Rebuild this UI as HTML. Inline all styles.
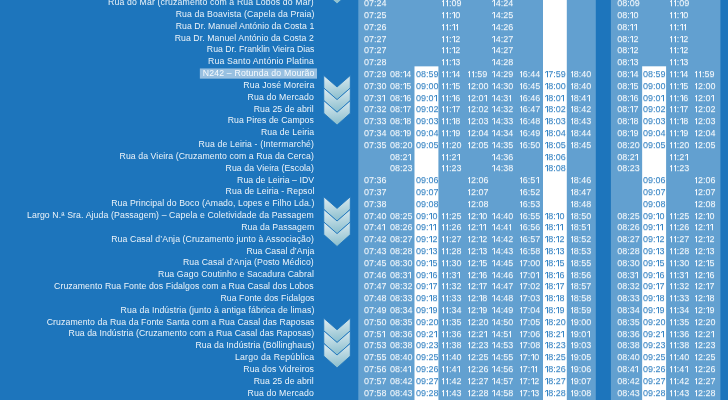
<!DOCTYPE html>
<html><head><meta charset="utf-8"><title>Horário</title>
<style>
html,body{margin:0;padding:0}
body{width:728px;height:400px;overflow:hidden;background:#1d75bc;position:relative;font-family:"Liberation Sans",sans-serif;}
#tx{position:absolute;left:0;top:0;width:728px;height:400px;filter:blur(.45px)}
.l{position:absolute;right:414px;white-space:nowrap;color:#fff;font-size:8.4px;line-height:10px;height:10px;opacity:.92;transform:scaleX(1.04);transform-origin:100% 50%}
.c{position:absolute;white-space:nowrap;color:#fff;font-size:9px;line-height:10px;height:10px;opacity:.93;text-shadow:0 1px 0 rgba(255,255,255,.25)}
.b{color:#2278be;opacity:.9;text-shadow:0 1px 0 rgba(29,117,188,.25)}
.b i:before{box-shadow:0 1px 0 rgba(29,117,188,.25)!important}
.c i{display:inline-block;width:3.85px;height:7px;margin-bottom:-1px;position:relative;font-size:0;line-height:0;overflow:hidden;font-style:normal}
.c i:before{content:"";position:absolute;right:.75px;top:0;width:.85px;height:6px;box-shadow:0 1px 0 rgba(255,255,255,.28);background:currentColor}
.c i:after{content:"";position:absolute;right:1.6px;top:.1px;width:1.6px;height:.85px;background:currentColor;transform:skewY(-40deg);transform-origin:right top}
svg{position:absolute;left:0;top:0}
</style></head><body>
<svg width="728" height="400" viewBox="0 0 728 400"><defs><linearGradient id="g" x1="0" y1="0" x2="0.12" y2="1"><stop offset="0" stop-color="#e2eef3"/><stop offset="1" stop-color="#8cbfce"/></linearGradient></defs><rect x="358.3" y="-5" width="237.5" height="410" fill="#62a0d0"/><rect x="610.9" y="-5" width="109.5" height="410" fill="#62a0d0"/><rect x="414.5" y="66.35" width="23.9" height="338.65" fill="#fff"/><rect x="543.0" y="-5" width="23.8" height="410" fill="#fff"/><rect x="642.15" y="66.3" width="23.95" height="338.7" fill="#fff"/><rect x="199.85" y="68.45" width="117.15" height="10.2" fill="#98c0e1"/><polygon points="323.75,-45.8 337.05,-34.2 350.3,-45.8 350.3,-33.2 337.05,-21.3 323.75,-33.2" fill="url(#g)" stroke="#1d75bc" stroke-width="0.9"/><polygon points="323.75,-33.2 337.05,-21.6 350.3,-33.2 350.3,-20.6 337.05,-8.7 323.75,-20.6" fill="url(#g)" stroke="#1d75bc" stroke-width="0.9"/><polygon points="323.75,-20.6 337.05,-9.0 350.3,-20.6 350.3,-8.0 337.05,3.9 323.75,-8.0" fill="url(#g)" stroke="#1d75bc" stroke-width="0.9"/><polygon points="323.75,75.4 337.05,87.0 350.3,75.4 350.3,88.0 337.05,99.9 323.75,88.0" fill="url(#g)" stroke="#1d75bc" stroke-width="0.9"/><polygon points="323.75,88.0 337.05,99.6 350.3,88.0 350.3,100.6 337.05,112.5 323.75,100.6" fill="url(#g)" stroke="#1d75bc" stroke-width="0.9"/><polygon points="323.75,100.6 337.05,112.2 350.3,100.6 350.3,113.2 337.05,125.1 323.75,113.2" fill="url(#g)" stroke="#1d75bc" stroke-width="0.9"/><polygon points="323.75,196.8 337.05,208.4 350.3,196.8 350.3,209.4 337.05,221.3 323.75,209.4" fill="url(#g)" stroke="#1d75bc" stroke-width="0.9"/><polygon points="323.75,209.4 337.05,221.0 350.3,209.4 350.3,222.0 337.05,233.9 323.75,222.0" fill="url(#g)" stroke="#1d75bc" stroke-width="0.9"/><polygon points="323.75,222.0 337.05,233.6 350.3,222.0 350.3,234.6 337.05,246.5 323.75,234.6" fill="url(#g)" stroke="#1d75bc" stroke-width="0.9"/><polygon points="323.75,318.2 337.05,329.8 350.3,318.2 350.3,330.8 337.05,342.7 323.75,330.8" fill="url(#g)" stroke="#1d75bc" stroke-width="0.9"/><polygon points="323.75,330.8 337.05,342.4 350.3,330.8 350.3,343.4 337.05,355.3 323.75,343.4" fill="url(#g)" stroke="#1d75bc" stroke-width="0.9"/><polygon points="323.75,343.4 337.05,355.0 350.3,343.4 350.3,356.0 337.05,367.9 323.75,356.0" fill="url(#g)" stroke="#1d75bc" stroke-width="0.9"/></svg>
<div id="tx">
<div class="l" style="top:-2.85px;letter-spacing:0.130px;margin-right:-0.135px">Rua do Mar (cruzamento com a Rua Lobos do Mar)</div>
<div class="l" style="top:8.98px;letter-spacing:0.125px;margin-right:-0.130px">Rua da Boavista (Capela da Praia)</div>
<div class="l" style="top:20.81px;letter-spacing:0.061px;margin-right:-0.064px">Rua Dr. Manuel António da Costa 1</div>
<div class="l" style="top:32.64px;letter-spacing:0.079px;margin-right:-0.082px">Rua Dr. Manuel António da Costa 2</div>
<div class="l" style="top:44.47px;letter-spacing:0.011px;margin-right:-0.012px">Rua Dr. Franklin Vieira Dias</div>
<div class="l" style="top:56.30px;letter-spacing:0.170px;margin-right:-0.177px">Rua Santo António Platina</div>
<div class="l" style="top:68.13px;letter-spacing:0.177px;margin-right:-0.184px">N242 – Rotunda do Mourão</div>
<div class="l" style="top:79.96px;letter-spacing:0.143px;margin-right:-0.148px">Rua José Moreira</div>
<div class="l" style="top:91.79px;letter-spacing:0.155px;margin-right:-0.162px">Rua do Mercado</div>
<div class="l" style="top:103.62px;letter-spacing:0.071px;margin-right:-0.074px">Rua 25 de abril</div>
<div class="l" style="top:115.45px;letter-spacing:0.052px;margin-right:-0.054px">Rua Pires de Campos</div>
<div class="l" style="top:127.28px;letter-spacing:0.109px;margin-right:-0.114px">Rua de Leiria</div>
<div class="l" style="top:139.11px;letter-spacing:0.124px;margin-right:-0.129px">Rua de Leiria - (Intermarché)</div>
<div class="l" style="top:150.94px;letter-spacing:0.081px;margin-right:-0.084px">Rua da Vieira (Cruzamento com a Rua da Cerca)</div>
<div class="l" style="top:162.77px;letter-spacing:0.059px;margin-right:-0.061px">Rua da Vieira (Escola)</div>
<div class="l" style="top:174.60px;letter-spacing:0.054px;margin-right:-0.056px">Rua de Leiria – IDV</div>
<div class="l" style="top:186.43px;letter-spacing:0.100px;margin-right:-0.104px">Rua de Leiria - Repsol</div>
<div class="l" style="top:198.26px;letter-spacing:0.092px;margin-right:-0.096px">Rua Principal do Boco (Amado, Lopes e Filho Lda.)</div>
<div class="l" style="top:210.09px;letter-spacing:0.109px;margin-right:-0.113px">Largo N.ª Sra. Ajuda (Passagem) – Capela e Coletividade da Passagem</div>
<div class="l" style="top:221.92px;letter-spacing:0.091px;margin-right:-0.094px">Rua da Passagem</div>
<div class="l" style="top:233.75px;letter-spacing:0.096px;margin-right:-0.100px">Rua Casal d’Anja (Cruzamento junto à Associação)</div>
<div class="l" style="top:245.58px;letter-spacing:0.046px;margin-right:-0.048px">Rua Casal d’Anja</div>
<div class="l" style="top:257.41px;letter-spacing:0.079px;margin-right:-0.083px">Rua Casal d’Anja (Posto Médico)</div>
<div class="l" style="top:269.24px;letter-spacing:0.108px;margin-right:-0.112px">Rua Gago Coutinho e Sacadura Cabral</div>
<div class="l" style="top:281.07px;letter-spacing:0.089px;margin-right:-0.092px">Cruzamento Rua Fonte dos Fidalgos com a Rua Casal dos Lobos</div>
<div class="l" style="top:292.90px;letter-spacing:0.072px;margin-right:-0.075px">Rua Fonte dos Fidalgos</div>
<div class="l" style="top:304.73px;letter-spacing:0.116px;margin-right:-0.121px">Rua da Indústria (junto à antiga fábrica de limas)</div>
<div class="l" style="top:316.56px;letter-spacing:0.087px;margin-right:-0.090px">Cruzamento da Rua da Fonte Santa com a Rua Casal das Raposas</div>
<div class="l" style="top:328.39px;letter-spacing:0.061px;margin-right:-0.064px">Rua da Indústria (Cruzamento com a Rua Casal das Raposas)</div>
<div class="l" style="top:340.22px;letter-spacing:0.060px;margin-right:-0.062px">Rua da Indústria (Böllinghaus)</div>
<div class="l" style="top:352.05px;letter-spacing:0.210px;margin-right:-0.218px">Largo da República</div>
<div class="l" style="top:363.88px;letter-spacing:0.098px;margin-right:-0.102px">Rua dos Vidreiros</div>
<div class="l" style="top:375.71px;letter-spacing:0.071px;margin-right:-0.074px">Rua 25 de abril</div>
<div class="l" style="top:387.54px;letter-spacing:0.155px;margin-right:-0.162px">Rua do Mercado</div>
<div class="c" style="left:364.0px;top:-2px">07:24</div>
<div class="c" style="left:364.0px;top:10px">07:25</div>
<div class="c" style="left:364.0px;top:22px">07:26</div>
<div class="c" style="left:364.0px;top:34px">07:27</div>
<div class="c" style="left:364.0px;top:45px">07:27</div>
<div class="c" style="left:364.0px;top:57px">07:28</div>
<div class="c" style="left:364.0px;top:69px">07:29</div>
<div class="c" style="left:364.0px;top:81px">07:30</div>
<div class="c" style="left:364.0px;top:93px">07:3<i>1</i></div>
<div class="c" style="left:364.0px;top:104px">07:32</div>
<div class="c" style="left:364.0px;top:116px">07:33</div>
<div class="c" style="left:364.0px;top:128px">07:34</div>
<div class="c" style="left:364.0px;top:140px">07:35</div>
<div class="c" style="left:364.0px;top:175px">07:36</div>
<div class="c" style="left:364.0px;top:187px">07:37</div>
<div class="c" style="left:364.0px;top:199px">07:38</div>
<div class="c" style="left:364.0px;top:211px">07:40</div>
<div class="c" style="left:364.0px;top:222px">07:4<i>1</i></div>
<div class="c" style="left:364.0px;top:234px">07:42</div>
<div class="c" style="left:364.0px;top:246px">07:43</div>
<div class="c" style="left:364.0px;top:258px">07:45</div>
<div class="c" style="left:364.0px;top:270px">07:46</div>
<div class="c" style="left:364.0px;top:281px">07:47</div>
<div class="c" style="left:364.0px;top:293px">07:48</div>
<div class="c" style="left:364.0px;top:305px">07:49</div>
<div class="c" style="left:364.0px;top:317px">07:50</div>
<div class="c" style="left:364.0px;top:329px">07:5<i>1</i></div>
<div class="c" style="left:364.0px;top:340px">07:53</div>
<div class="c" style="left:364.0px;top:352px">07:55</div>
<div class="c" style="left:364.0px;top:364px">07:56</div>
<div class="c" style="left:364.0px;top:376px">07:57</div>
<div class="c" style="left:364.0px;top:388px">07:58</div>
<div class="c" style="left:390.0px;top:69px">08:<i>1</i>4</div>
<div class="c" style="left:390.0px;top:81px">08:<i>1</i>5</div>
<div class="c" style="left:390.0px;top:93px">08:<i>1</i>6</div>
<div class="c" style="left:390.0px;top:104px">08:<i>1</i>7</div>
<div class="c" style="left:390.0px;top:116px">08:<i>1</i>8</div>
<div class="c" style="left:390.0px;top:128px">08:<i>1</i>9</div>
<div class="c" style="left:390.0px;top:140px">08:20</div>
<div class="c" style="left:390.0px;top:152px">08:2<i>1</i></div>
<div class="c" style="left:390.0px;top:163px">08:23</div>
<div class="c" style="left:390.0px;top:211px">08:25</div>
<div class="c" style="left:390.0px;top:222px">08:26</div>
<div class="c" style="left:390.0px;top:234px">08:27</div>
<div class="c" style="left:390.0px;top:246px">08:28</div>
<div class="c" style="left:390.0px;top:258px">08:30</div>
<div class="c" style="left:390.0px;top:270px">08:3<i>1</i></div>
<div class="c" style="left:390.0px;top:281px">08:32</div>
<div class="c" style="left:390.0px;top:293px">08:33</div>
<div class="c" style="left:390.0px;top:305px">08:34</div>
<div class="c" style="left:390.0px;top:317px">08:35</div>
<div class="c" style="left:390.0px;top:329px">08:36</div>
<div class="c" style="left:390.0px;top:340px">08:38</div>
<div class="c" style="left:390.0px;top:352px">08:40</div>
<div class="c" style="left:390.0px;top:364px">08:4<i>1</i></div>
<div class="c" style="left:390.0px;top:376px">08:42</div>
<div class="c" style="left:390.0px;top:388px">08:43</div>
<div class="c b" style="left:416.1px;top:69px">08:59</div>
<div class="c b" style="left:416.1px;top:81px">09:00</div>
<div class="c b" style="left:416.1px;top:93px">09:0<i>1</i></div>
<div class="c b" style="left:416.1px;top:104px">09:02</div>
<div class="c b" style="left:416.1px;top:116px">09:03</div>
<div class="c b" style="left:416.1px;top:128px">09:04</div>
<div class="c b" style="left:416.1px;top:140px">09:05</div>
<div class="c b" style="left:416.1px;top:175px">09:06</div>
<div class="c b" style="left:416.1px;top:187px">09:07</div>
<div class="c b" style="left:416.1px;top:199px">09:08</div>
<div class="c b" style="left:416.1px;top:211px">09:<i>1</i>0</div>
<div class="c b" style="left:416.1px;top:222px">09:<i>1</i><i>1</i></div>
<div class="c b" style="left:416.1px;top:234px">09:<i>1</i>2</div>
<div class="c b" style="left:416.1px;top:246px">09:<i>1</i>3</div>
<div class="c b" style="left:416.1px;top:258px">09:<i>1</i>5</div>
<div class="c b" style="left:416.1px;top:270px">09:<i>1</i>6</div>
<div class="c b" style="left:416.1px;top:281px">09:<i>1</i>7</div>
<div class="c b" style="left:416.1px;top:293px">09:<i>1</i>8</div>
<div class="c b" style="left:416.1px;top:305px">09:<i>1</i>9</div>
<div class="c b" style="left:416.1px;top:317px">09:20</div>
<div class="c b" style="left:416.1px;top:329px">09:2<i>1</i></div>
<div class="c b" style="left:416.1px;top:340px">09:23</div>
<div class="c b" style="left:416.1px;top:352px">09:25</div>
<div class="c b" style="left:416.1px;top:364px">09:26</div>
<div class="c b" style="left:416.1px;top:376px">09:27</div>
<div class="c b" style="left:416.1px;top:388px">09:28</div>
<div class="c" style="left:441.2px;top:-2px"><i>1</i><i>1</i>:09</div>
<div class="c" style="left:441.2px;top:10px"><i>1</i><i>1</i>:<i>1</i>0</div>
<div class="c" style="left:441.2px;top:22px"><i>1</i><i>1</i>:<i>1</i><i>1</i></div>
<div class="c" style="left:441.2px;top:34px"><i>1</i><i>1</i>:<i>1</i>2</div>
<div class="c" style="left:441.2px;top:45px"><i>1</i><i>1</i>:<i>1</i>2</div>
<div class="c" style="left:441.2px;top:57px"><i>1</i><i>1</i>:<i>1</i>3</div>
<div class="c" style="left:441.2px;top:69px"><i>1</i><i>1</i>:<i>1</i>4</div>
<div class="c" style="left:441.2px;top:81px"><i>1</i><i>1</i>:<i>1</i>5</div>
<div class="c" style="left:441.2px;top:93px"><i>1</i><i>1</i>:<i>1</i>6</div>
<div class="c" style="left:441.2px;top:104px"><i>1</i><i>1</i>:<i>1</i>7</div>
<div class="c" style="left:441.2px;top:116px"><i>1</i><i>1</i>:<i>1</i>8</div>
<div class="c" style="left:441.2px;top:128px"><i>1</i><i>1</i>:<i>1</i>9</div>
<div class="c" style="left:441.2px;top:140px"><i>1</i><i>1</i>:20</div>
<div class="c" style="left:441.2px;top:152px"><i>1</i><i>1</i>:2<i>1</i></div>
<div class="c" style="left:441.2px;top:163px"><i>1</i><i>1</i>:23</div>
<div class="c" style="left:441.2px;top:211px"><i>1</i><i>1</i>:25</div>
<div class="c" style="left:441.2px;top:222px"><i>1</i><i>1</i>:26</div>
<div class="c" style="left:441.2px;top:234px"><i>1</i><i>1</i>:27</div>
<div class="c" style="left:441.2px;top:246px"><i>1</i><i>1</i>:28</div>
<div class="c" style="left:441.2px;top:258px"><i>1</i><i>1</i>:30</div>
<div class="c" style="left:441.2px;top:270px"><i>1</i><i>1</i>:3<i>1</i></div>
<div class="c" style="left:441.2px;top:281px"><i>1</i><i>1</i>:32</div>
<div class="c" style="left:441.2px;top:293px"><i>1</i><i>1</i>:33</div>
<div class="c" style="left:441.2px;top:305px"><i>1</i><i>1</i>:34</div>
<div class="c" style="left:441.2px;top:317px"><i>1</i><i>1</i>:35</div>
<div class="c" style="left:441.2px;top:329px"><i>1</i><i>1</i>:36</div>
<div class="c" style="left:441.2px;top:340px"><i>1</i><i>1</i>:38</div>
<div class="c" style="left:441.2px;top:352px"><i>1</i><i>1</i>:40</div>
<div class="c" style="left:441.2px;top:364px"><i>1</i><i>1</i>:4<i>1</i></div>
<div class="c" style="left:441.2px;top:376px"><i>1</i><i>1</i>:42</div>
<div class="c" style="left:441.2px;top:388px"><i>1</i><i>1</i>:43</div>
<div class="c" style="left:467.1px;top:69px"><i>1</i><i>1</i>:59</div>
<div class="c" style="left:467.1px;top:81px"><i>1</i>2:00</div>
<div class="c" style="left:467.1px;top:93px"><i>1</i>2:0<i>1</i></div>
<div class="c" style="left:467.1px;top:104px"><i>1</i>2:02</div>
<div class="c" style="left:467.1px;top:116px"><i>1</i>2:03</div>
<div class="c" style="left:467.1px;top:128px"><i>1</i>2:04</div>
<div class="c" style="left:467.1px;top:140px"><i>1</i>2:05</div>
<div class="c" style="left:467.1px;top:175px"><i>1</i>2:06</div>
<div class="c" style="left:467.1px;top:187px"><i>1</i>2:07</div>
<div class="c" style="left:467.1px;top:199px"><i>1</i>2:08</div>
<div class="c" style="left:467.1px;top:211px"><i>1</i>2:<i>1</i>0</div>
<div class="c" style="left:467.1px;top:222px"><i>1</i>2:<i>1</i><i>1</i></div>
<div class="c" style="left:467.1px;top:234px"><i>1</i>2:<i>1</i>2</div>
<div class="c" style="left:467.1px;top:246px"><i>1</i>2:<i>1</i>3</div>
<div class="c" style="left:467.1px;top:258px"><i>1</i>2:<i>1</i>5</div>
<div class="c" style="left:467.1px;top:270px"><i>1</i>2:<i>1</i>6</div>
<div class="c" style="left:467.1px;top:281px"><i>1</i>2:<i>1</i>7</div>
<div class="c" style="left:467.1px;top:293px"><i>1</i>2:<i>1</i>8</div>
<div class="c" style="left:467.1px;top:305px"><i>1</i>2:<i>1</i>9</div>
<div class="c" style="left:467.1px;top:317px"><i>1</i>2:20</div>
<div class="c" style="left:467.1px;top:329px"><i>1</i>2:2<i>1</i></div>
<div class="c" style="left:467.1px;top:340px"><i>1</i>2:23</div>
<div class="c" style="left:467.1px;top:352px"><i>1</i>2:25</div>
<div class="c" style="left:467.1px;top:364px"><i>1</i>2:26</div>
<div class="c" style="left:467.1px;top:376px"><i>1</i>2:27</div>
<div class="c" style="left:467.1px;top:388px"><i>1</i>2:28</div>
<div class="c" style="left:491.8px;top:-2px"><i>1</i>4:24</div>
<div class="c" style="left:491.8px;top:10px"><i>1</i>4:25</div>
<div class="c" style="left:491.8px;top:22px"><i>1</i>4:26</div>
<div class="c" style="left:491.8px;top:34px"><i>1</i>4:27</div>
<div class="c" style="left:491.8px;top:45px"><i>1</i>4:27</div>
<div class="c" style="left:491.8px;top:57px"><i>1</i>4:28</div>
<div class="c" style="left:491.8px;top:69px"><i>1</i>4:29</div>
<div class="c" style="left:491.8px;top:81px"><i>1</i>4:30</div>
<div class="c" style="left:491.8px;top:93px"><i>1</i>4:3<i>1</i></div>
<div class="c" style="left:491.8px;top:104px"><i>1</i>4:32</div>
<div class="c" style="left:491.8px;top:116px"><i>1</i>4:33</div>
<div class="c" style="left:491.8px;top:128px"><i>1</i>4:34</div>
<div class="c" style="left:491.8px;top:140px"><i>1</i>4:35</div>
<div class="c" style="left:491.8px;top:152px"><i>1</i>4:36</div>
<div class="c" style="left:491.8px;top:163px"><i>1</i>4:38</div>
<div class="c" style="left:491.8px;top:211px"><i>1</i>4:40</div>
<div class="c" style="left:491.8px;top:222px"><i>1</i>4:4<i>1</i></div>
<div class="c" style="left:491.8px;top:234px"><i>1</i>4:42</div>
<div class="c" style="left:491.8px;top:246px"><i>1</i>4:43</div>
<div class="c" style="left:491.8px;top:258px"><i>1</i>4:45</div>
<div class="c" style="left:491.8px;top:270px"><i>1</i>4:46</div>
<div class="c" style="left:491.8px;top:281px"><i>1</i>4:47</div>
<div class="c" style="left:491.8px;top:293px"><i>1</i>4:48</div>
<div class="c" style="left:491.8px;top:305px"><i>1</i>4:49</div>
<div class="c" style="left:491.8px;top:317px"><i>1</i>4:50</div>
<div class="c" style="left:491.8px;top:329px"><i>1</i>4:5<i>1</i></div>
<div class="c" style="left:491.8px;top:340px"><i>1</i>4:53</div>
<div class="c" style="left:491.8px;top:352px"><i>1</i>4:55</div>
<div class="c" style="left:491.8px;top:364px"><i>1</i>4:56</div>
<div class="c" style="left:491.8px;top:376px"><i>1</i>4:57</div>
<div class="c" style="left:491.8px;top:388px"><i>1</i>4:58</div>
<div class="c" style="left:519.0px;top:69px"><i>1</i>6:44</div>
<div class="c" style="left:519.0px;top:81px"><i>1</i>6:45</div>
<div class="c" style="left:519.0px;top:93px"><i>1</i>6:46</div>
<div class="c" style="left:519.0px;top:104px"><i>1</i>6:47</div>
<div class="c" style="left:519.0px;top:116px"><i>1</i>6:48</div>
<div class="c" style="left:519.0px;top:128px"><i>1</i>6:49</div>
<div class="c" style="left:519.0px;top:140px"><i>1</i>6:50</div>
<div class="c" style="left:519.0px;top:175px"><i>1</i>6:5<i>1</i></div>
<div class="c" style="left:519.0px;top:187px"><i>1</i>6:52</div>
<div class="c" style="left:519.0px;top:199px"><i>1</i>6:53</div>
<div class="c" style="left:519.0px;top:211px"><i>1</i>6:55</div>
<div class="c" style="left:519.0px;top:222px"><i>1</i>6:56</div>
<div class="c" style="left:519.0px;top:234px"><i>1</i>6:57</div>
<div class="c" style="left:519.0px;top:246px"><i>1</i>6:58</div>
<div class="c" style="left:519.0px;top:258px"><i>1</i>7:00</div>
<div class="c" style="left:519.0px;top:270px"><i>1</i>7:0<i>1</i></div>
<div class="c" style="left:519.0px;top:281px"><i>1</i>7:02</div>
<div class="c" style="left:519.0px;top:293px"><i>1</i>7:03</div>
<div class="c" style="left:519.0px;top:305px"><i>1</i>7:04</div>
<div class="c" style="left:519.0px;top:317px"><i>1</i>7:05</div>
<div class="c" style="left:519.0px;top:329px"><i>1</i>7:06</div>
<div class="c" style="left:519.0px;top:340px"><i>1</i>7:08</div>
<div class="c" style="left:519.0px;top:352px"><i>1</i>7:<i>1</i>0</div>
<div class="c" style="left:519.0px;top:364px"><i>1</i>7:<i>1</i><i>1</i></div>
<div class="c" style="left:519.0px;top:376px"><i>1</i>7:<i>1</i>2</div>
<div class="c" style="left:519.0px;top:388px"><i>1</i>7:<i>1</i>3</div>
<div class="c b" style="left:544.3px;top:69px"><i>1</i>7:59</div>
<div class="c b" style="left:544.3px;top:81px"><i>1</i>8:00</div>
<div class="c b" style="left:544.3px;top:93px"><i>1</i>8:0<i>1</i></div>
<div class="c b" style="left:544.3px;top:104px"><i>1</i>8:02</div>
<div class="c b" style="left:544.3px;top:116px"><i>1</i>8:03</div>
<div class="c b" style="left:544.3px;top:128px"><i>1</i>8:04</div>
<div class="c b" style="left:544.3px;top:140px"><i>1</i>8:05</div>
<div class="c b" style="left:544.3px;top:152px"><i>1</i>8:06</div>
<div class="c b" style="left:544.3px;top:163px"><i>1</i>8:08</div>
<div class="c b" style="left:544.3px;top:211px"><i>1</i>8:<i>1</i>0</div>
<div class="c b" style="left:544.3px;top:222px"><i>1</i>8:<i>1</i><i>1</i></div>
<div class="c b" style="left:544.3px;top:234px"><i>1</i>8:<i>1</i>2</div>
<div class="c b" style="left:544.3px;top:246px"><i>1</i>8:<i>1</i>3</div>
<div class="c b" style="left:544.3px;top:258px"><i>1</i>8:<i>1</i>5</div>
<div class="c b" style="left:544.3px;top:270px"><i>1</i>8:<i>1</i>6</div>
<div class="c b" style="left:544.3px;top:281px"><i>1</i>8:<i>1</i>7</div>
<div class="c b" style="left:544.3px;top:293px"><i>1</i>8:<i>1</i>8</div>
<div class="c b" style="left:544.3px;top:305px"><i>1</i>8:<i>1</i>9</div>
<div class="c b" style="left:544.3px;top:317px"><i>1</i>8:20</div>
<div class="c b" style="left:544.3px;top:329px"><i>1</i>8:2<i>1</i></div>
<div class="c b" style="left:544.3px;top:340px"><i>1</i>8:23</div>
<div class="c b" style="left:544.3px;top:352px"><i>1</i>8:25</div>
<div class="c b" style="left:544.3px;top:364px"><i>1</i>8:26</div>
<div class="c b" style="left:544.3px;top:376px"><i>1</i>8:27</div>
<div class="c b" style="left:544.3px;top:388px"><i>1</i>8:28</div>
<div class="c" style="left:570.0px;top:69px"><i>1</i>8:40</div>
<div class="c" style="left:570.0px;top:81px"><i>1</i>8:40</div>
<div class="c" style="left:570.0px;top:93px"><i>1</i>8:4<i>1</i></div>
<div class="c" style="left:570.0px;top:104px"><i>1</i>8:42</div>
<div class="c" style="left:570.0px;top:116px"><i>1</i>8:43</div>
<div class="c" style="left:570.0px;top:128px"><i>1</i>8:44</div>
<div class="c" style="left:570.0px;top:140px"><i>1</i>8:45</div>
<div class="c" style="left:570.0px;top:175px"><i>1</i>8:46</div>
<div class="c" style="left:570.0px;top:187px"><i>1</i>8:47</div>
<div class="c" style="left:570.0px;top:199px"><i>1</i>8:48</div>
<div class="c" style="left:570.0px;top:211px"><i>1</i>8:50</div>
<div class="c" style="left:570.0px;top:222px"><i>1</i>8:5<i>1</i></div>
<div class="c" style="left:570.0px;top:234px"><i>1</i>8:52</div>
<div class="c" style="left:570.0px;top:246px"><i>1</i>8:53</div>
<div class="c" style="left:570.0px;top:258px"><i>1</i>8:55</div>
<div class="c" style="left:570.0px;top:270px"><i>1</i>8:56</div>
<div class="c" style="left:570.0px;top:281px"><i>1</i>8:57</div>
<div class="c" style="left:570.0px;top:293px"><i>1</i>8:58</div>
<div class="c" style="left:570.0px;top:305px"><i>1</i>8:59</div>
<div class="c" style="left:570.0px;top:317px"><i>1</i>9:00</div>
<div class="c" style="left:570.0px;top:329px"><i>1</i>9:0<i>1</i></div>
<div class="c" style="left:570.0px;top:340px"><i>1</i>9:03</div>
<div class="c" style="left:570.0px;top:352px"><i>1</i>9:05</div>
<div class="c" style="left:570.0px;top:364px"><i>1</i>9:06</div>
<div class="c" style="left:570.0px;top:376px"><i>1</i>9:07</div>
<div class="c" style="left:570.0px;top:388px"><i>1</i>9:08</div>
<div class="c" style="left:617.2px;top:-2px">08:09</div>
<div class="c" style="left:617.2px;top:10px">08:<i>1</i>0</div>
<div class="c" style="left:617.2px;top:22px">08:<i>1</i><i>1</i></div>
<div class="c" style="left:617.2px;top:34px">08:<i>1</i>2</div>
<div class="c" style="left:617.2px;top:45px">08:<i>1</i>2</div>
<div class="c" style="left:617.2px;top:57px">08:<i>1</i>3</div>
<div class="c" style="left:617.2px;top:69px">08:<i>1</i>4</div>
<div class="c" style="left:617.2px;top:81px">08:<i>1</i>5</div>
<div class="c" style="left:617.2px;top:93px">08:<i>1</i>6</div>
<div class="c" style="left:617.2px;top:104px">08:<i>1</i>7</div>
<div class="c" style="left:617.2px;top:116px">08:<i>1</i>8</div>
<div class="c" style="left:617.2px;top:128px">08:<i>1</i>9</div>
<div class="c" style="left:617.2px;top:140px">08:20</div>
<div class="c" style="left:617.2px;top:152px">08:2<i>1</i></div>
<div class="c" style="left:617.2px;top:163px">08:23</div>
<div class="c" style="left:617.2px;top:211px">08:25</div>
<div class="c" style="left:617.2px;top:222px">08:26</div>
<div class="c" style="left:617.2px;top:234px">08:27</div>
<div class="c" style="left:617.2px;top:246px">08:28</div>
<div class="c" style="left:617.2px;top:258px">08:30</div>
<div class="c" style="left:617.2px;top:270px">08:3<i>1</i></div>
<div class="c" style="left:617.2px;top:281px">08:32</div>
<div class="c" style="left:617.2px;top:293px">08:33</div>
<div class="c" style="left:617.2px;top:305px">08:34</div>
<div class="c" style="left:617.2px;top:317px">08:35</div>
<div class="c" style="left:617.2px;top:329px">08:36</div>
<div class="c" style="left:617.2px;top:340px">08:38</div>
<div class="c" style="left:617.2px;top:352px">08:40</div>
<div class="c" style="left:617.2px;top:364px">08:4<i>1</i></div>
<div class="c" style="left:617.2px;top:376px">08:42</div>
<div class="c" style="left:617.2px;top:388px">08:43</div>
<div class="c b" style="left:643.1px;top:69px">08:59</div>
<div class="c b" style="left:643.1px;top:81px">09:00</div>
<div class="c b" style="left:643.1px;top:93px">09:0<i>1</i></div>
<div class="c b" style="left:643.1px;top:104px">09:02</div>
<div class="c b" style="left:643.1px;top:116px">09:03</div>
<div class="c b" style="left:643.1px;top:128px">09:04</div>
<div class="c b" style="left:643.1px;top:140px">09:05</div>
<div class="c b" style="left:643.1px;top:175px">09:06</div>
<div class="c b" style="left:643.1px;top:187px">09:07</div>
<div class="c b" style="left:643.1px;top:199px">09:08</div>
<div class="c b" style="left:643.1px;top:211px">09:<i>1</i>0</div>
<div class="c b" style="left:643.1px;top:222px">09:<i>1</i><i>1</i></div>
<div class="c b" style="left:643.1px;top:234px">09:<i>1</i>2</div>
<div class="c b" style="left:643.1px;top:246px">09:<i>1</i>3</div>
<div class="c b" style="left:643.1px;top:258px">09:<i>1</i>5</div>
<div class="c b" style="left:643.1px;top:270px">09:<i>1</i>6</div>
<div class="c b" style="left:643.1px;top:281px">09:<i>1</i>7</div>
<div class="c b" style="left:643.1px;top:293px">09:<i>1</i>8</div>
<div class="c b" style="left:643.1px;top:305px">09:<i>1</i>9</div>
<div class="c b" style="left:643.1px;top:317px">09:20</div>
<div class="c b" style="left:643.1px;top:329px">09:2<i>1</i></div>
<div class="c b" style="left:643.1px;top:340px">09:23</div>
<div class="c b" style="left:643.1px;top:352px">09:25</div>
<div class="c b" style="left:643.1px;top:364px">09:26</div>
<div class="c b" style="left:643.1px;top:376px">09:27</div>
<div class="c b" style="left:643.1px;top:388px">09:28</div>
<div class="c" style="left:669.1px;top:-2px"><i>1</i><i>1</i>:09</div>
<div class="c" style="left:669.1px;top:10px"><i>1</i><i>1</i>:<i>1</i>0</div>
<div class="c" style="left:669.1px;top:22px"><i>1</i><i>1</i>:<i>1</i><i>1</i></div>
<div class="c" style="left:669.1px;top:34px"><i>1</i><i>1</i>:<i>1</i>2</div>
<div class="c" style="left:669.1px;top:45px"><i>1</i><i>1</i>:<i>1</i>2</div>
<div class="c" style="left:669.1px;top:57px"><i>1</i><i>1</i>:<i>1</i>3</div>
<div class="c" style="left:669.1px;top:69px"><i>1</i><i>1</i>:<i>1</i>4</div>
<div class="c" style="left:669.1px;top:81px"><i>1</i><i>1</i>:<i>1</i>5</div>
<div class="c" style="left:669.1px;top:93px"><i>1</i><i>1</i>:<i>1</i>6</div>
<div class="c" style="left:669.1px;top:104px"><i>1</i><i>1</i>:<i>1</i>7</div>
<div class="c" style="left:669.1px;top:116px"><i>1</i><i>1</i>:<i>1</i>8</div>
<div class="c" style="left:669.1px;top:128px"><i>1</i><i>1</i>:<i>1</i>9</div>
<div class="c" style="left:669.1px;top:140px"><i>1</i><i>1</i>:20</div>
<div class="c" style="left:669.1px;top:152px"><i>1</i><i>1</i>:2<i>1</i></div>
<div class="c" style="left:669.1px;top:163px"><i>1</i><i>1</i>:23</div>
<div class="c" style="left:669.1px;top:211px"><i>1</i><i>1</i>:25</div>
<div class="c" style="left:669.1px;top:222px"><i>1</i><i>1</i>:26</div>
<div class="c" style="left:669.1px;top:234px"><i>1</i><i>1</i>:27</div>
<div class="c" style="left:669.1px;top:246px"><i>1</i><i>1</i>:28</div>
<div class="c" style="left:669.1px;top:258px"><i>1</i><i>1</i>:30</div>
<div class="c" style="left:669.1px;top:270px"><i>1</i><i>1</i>:3<i>1</i></div>
<div class="c" style="left:669.1px;top:281px"><i>1</i><i>1</i>:32</div>
<div class="c" style="left:669.1px;top:293px"><i>1</i><i>1</i>:33</div>
<div class="c" style="left:669.1px;top:305px"><i>1</i><i>1</i>:34</div>
<div class="c" style="left:669.1px;top:317px"><i>1</i><i>1</i>:35</div>
<div class="c" style="left:669.1px;top:329px"><i>1</i><i>1</i>:36</div>
<div class="c" style="left:669.1px;top:340px"><i>1</i><i>1</i>:38</div>
<div class="c" style="left:669.1px;top:352px"><i>1</i><i>1</i>:40</div>
<div class="c" style="left:669.1px;top:364px"><i>1</i><i>1</i>:4<i>1</i></div>
<div class="c" style="left:669.1px;top:376px"><i>1</i><i>1</i>:42</div>
<div class="c" style="left:669.1px;top:388px"><i>1</i><i>1</i>:43</div>
<div class="c" style="left:694.2px;top:69px"><i>1</i><i>1</i>:59</div>
<div class="c" style="left:694.2px;top:81px"><i>1</i>2:00</div>
<div class="c" style="left:694.2px;top:93px"><i>1</i>2:0<i>1</i></div>
<div class="c" style="left:694.2px;top:104px"><i>1</i>2:02</div>
<div class="c" style="left:694.2px;top:116px"><i>1</i>2:03</div>
<div class="c" style="left:694.2px;top:128px"><i>1</i>2:04</div>
<div class="c" style="left:694.2px;top:140px"><i>1</i>2:05</div>
<div class="c" style="left:694.2px;top:175px"><i>1</i>2:06</div>
<div class="c" style="left:694.2px;top:187px"><i>1</i>2:07</div>
<div class="c" style="left:694.2px;top:199px"><i>1</i>2:08</div>
<div class="c" style="left:694.2px;top:211px"><i>1</i>2:<i>1</i>0</div>
<div class="c" style="left:694.2px;top:222px"><i>1</i>2:<i>1</i><i>1</i></div>
<div class="c" style="left:694.2px;top:234px"><i>1</i>2:<i>1</i>2</div>
<div class="c" style="left:694.2px;top:246px"><i>1</i>2:<i>1</i>3</div>
<div class="c" style="left:694.2px;top:258px"><i>1</i>2:<i>1</i>5</div>
<div class="c" style="left:694.2px;top:270px"><i>1</i>2:<i>1</i>6</div>
<div class="c" style="left:694.2px;top:281px"><i>1</i>2:<i>1</i>7</div>
<div class="c" style="left:694.2px;top:293px"><i>1</i>2:<i>1</i>8</div>
<div class="c" style="left:694.2px;top:305px"><i>1</i>2:<i>1</i>9</div>
<div class="c" style="left:694.2px;top:317px"><i>1</i>2:20</div>
<div class="c" style="left:694.2px;top:329px"><i>1</i>2:2<i>1</i></div>
<div class="c" style="left:694.2px;top:340px"><i>1</i>2:23</div>
<div class="c" style="left:694.2px;top:352px"><i>1</i>2:25</div>
<div class="c" style="left:694.2px;top:364px"><i>1</i>2:26</div>
<div class="c" style="left:694.2px;top:376px"><i>1</i>2:27</div>
<div class="c" style="left:694.2px;top:388px"><i>1</i>2:28</div>
</div>
</body></html>
